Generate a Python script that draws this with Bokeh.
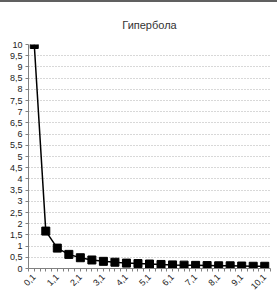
from bokeh.plotting import figure
from bokeh.models import FixedTicker, Range1d, Title, Spacer
from bokeh.layouts import column
from bokeh.embed import file_html
from bokeh.resources import INLINE

# Data (category labels and y values)
x_labels = ["0,1", "0,6", "1,1", "1,6", "2,1", "2,6", "3,1", "3,6", "4,1", "4,6",
            "5,1", "5,6", "6,1", "6,6", "7,1", "7,6", "8,1", "8,6", "9,1", "9,6", "10,1"]
y_values = [10.0, 1.67, 0.91, 0.63, 0.48, 0.38, 0.32, 0.28, 0.24, 0.22,
            0.2, 0.18, 0.16, 0.15, 0.14, 0.13, 0.12, 0.12, 0.11, 0.10, 0.10]
y_ticks = [0, 0.5, 1, 1.5, 2, 2.5, 3, 3.5, 4, 4.5, 5, 5.5, 6, 6.5, 7, 7.5, 8, 8.5, 9, 9.5, 10]
title_text = "Гипербола"

n = len(x_labels)
xs = list(range(n))

p = figure(width=277, height=298, output_backend="svg", toolbar_location=None,
           x_range=Range1d(-0.5, n - 0.5), y_range=Range1d(0, 10),
           min_border_left=28, min_border_right=7, min_border_bottom=32,
           min_border_top=0)

t = Title(text=title_text, align="center", text_font="Arial", text_font_size="11px",
          text_color="#333333", text_font_style="normal", offset=-12,
          standoff=28)
p.add_layout(t, "above")

p.outline_line_color = None
p.background_fill_color = "white"
p.border_fill_color = "white"

# grid
p.xgrid.grid_line_color = None
p.ygrid.ticker = FixedTicker(ticks=y_ticks)
p.ygrid.grid_line_color = "#b0b0b0"
p.ygrid.grid_line_dash = "1 2"
p.ygrid.grid_line_width = 1

# y axis
p.yaxis.ticker = FixedTicker(ticks=y_ticks)
p.yaxis.major_label_overrides = {v: (str(v).replace(".", ",") if v % 1 else str(int(v))) for v in y_ticks}
p.yaxis.major_label_text_font = "Arial"
p.yaxis.major_label_text_font_size = "9px"
p.yaxis.major_label_text_color = "#222222"
p.yaxis.axis_line_color = "#808080"
p.yaxis.major_tick_line_color = "#808080"
p.yaxis.major_tick_out = 3
p.yaxis.major_tick_in = 0
p.yaxis.minor_tick_line_color = None
p.yaxis.major_label_standoff = 3

# x axis
label_pos = xs[::2]
boundaries = [i + 0.5 for i in range(-1, n)]
p.xaxis.ticker = FixedTicker(ticks=label_pos, minor_ticks=boundaries + xs)
p.xaxis.major_label_overrides = {i: x_labels[i] for i in label_pos}
p.xaxis.major_label_orientation = 0.785
p.xaxis.major_label_text_font = "Arial"
p.xaxis.major_label_text_font_size = "9px"
p.xaxis.major_label_text_color = "#222222"
p.xaxis.axis_line_color = "#808080"
p.xaxis.major_tick_line_color = None
p.xaxis.minor_tick_line_color = "#808080"
p.xaxis.minor_tick_out = 3
p.xaxis.minor_tick_in = 0
p.xaxis.major_label_standoff = 1

p.line(xs, y_values, line_color="black", line_width=1.5)
p.scatter(xs, y_values, marker="square", size=8, fill_color="black", line_color="black")

# thin dark strip along the top edge of the picture
strip = Spacer(width=277, height=2, styles={"background-color": "#606060"})

layout = column(strip, p, spacing=0)

open("out.html", "w").write(file_html(layout, INLINE))
